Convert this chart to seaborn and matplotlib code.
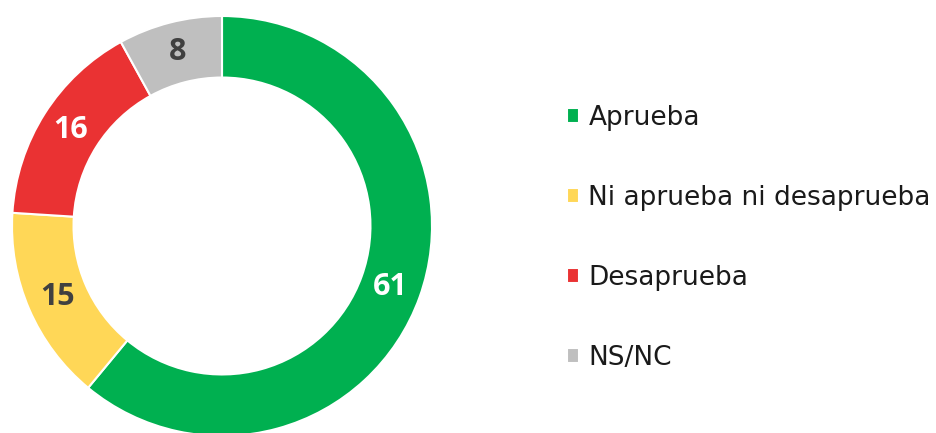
import matplotlib
matplotlib.use("Agg")
import matplotlib.pyplot as plt
import seaborn as sns

# datos de la encuesta
categorias = ["Aprueba", "Ni aprueba ni desaprueba", "Desaprueba", "NS/NC"]
valores = [61, 15, 16, 8]
colores = ["#00B050", "#FFD757", "#EA3233", "#BFBFBF"]
color_texto = ["white", "#404040", "white", "#404040"]

sns.set_theme(style="white")
plt.rcParams["font.family"] = ["Open Sans", "DejaVu Sans"]

fig = plt.figure(figsize=(9.36, 4.33), dpi=100)
ax = fig.add_axes([12 / 936, -3 / 433, 420 / 936, 420 / 433])

paleta = sns.color_palette(colores)
wedges, textos = ax.pie(
    valores,
    colors=paleta,
    startangle=90,
    counterclock=False,
    radius=1.0,
    labels=[str(v) for v in valores],
    labeldistance=0.853,
    wedgeprops=dict(width=0.293, edgecolor="white", linewidth=1.5),
    textprops=dict(fontsize=22, fontweight="bold"),
)
for t, c in zip(textos, color_texto):
    t.set_color(c)
    t.set_ha("center")
    t.set_va("center")

ax.set_xlim(-1, 1)
ax.set_ylim(-1, 1)
ax.set_aspect("equal")
ax.axis("off")

fig.legend(
    wedges, categorias,
    loc="center left",
    bbox_to_anchor=(567 / 936, 1 - 238 / 433),
    frameon=False,
    borderpad=0,
    borderaxespad=0,
    prop=dict(family="DejaVu Sans", size=19),
    labelspacing=2.05,
    handlelength=0.47,
    handleheight=0.47,
    handletextpad=0.34,
    labelcolor="#1a1a1a",
)

plt.savefig("out.png", dpi=100)
